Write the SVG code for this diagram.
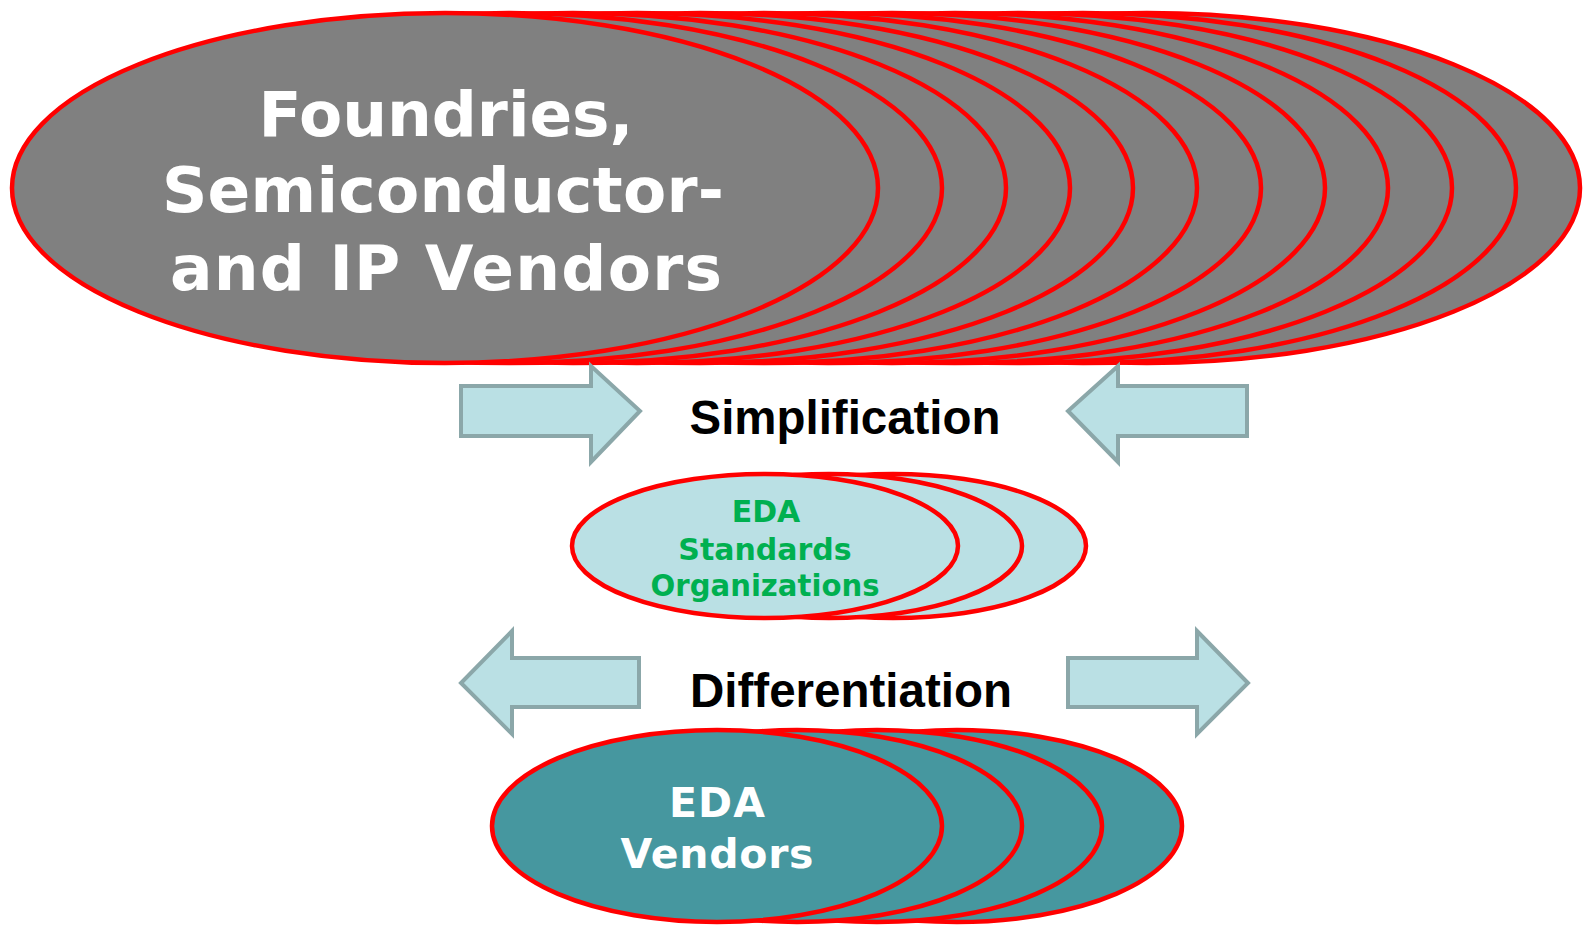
<svg xmlns="http://www.w3.org/2000/svg" width="1583" height="925" viewBox="0 0 1583 925">
<style>
.top{fill:#808080;stroke:#FF0000;stroke-width:4.5}
.mid{fill:#BAE0E4;stroke:#FF0000;stroke-width:4.5}
.bot{fill:#46979F;stroke:#FF0000;stroke-width:4.5}
.arr{fill:#BAE0E4;stroke:#8BA7A9;stroke-width:4}
.wt{font-family:"DejaVu Sans",Verdana,sans-serif;font-weight:bold;fill:#FFFFFF;text-anchor:middle}
.gt{font-family:"DejaVu Sans",Verdana,sans-serif;font-weight:bold;fill:#00B050;text-anchor:middle;font-size:30px}
.bt{font-family:"Liberation Sans",Arial,sans-serif;font-weight:bold;fill:#000000;text-anchor:middle;font-size:48px}
</style>
<rect width="1583" height="925" fill="#FFFFFF"/>
<g id="foundries">
<ellipse class="top" cx="1147" cy="188" rx="433" ry="175"/>
<ellipse class="top" cx="1083" cy="188" rx="433" ry="175"/>
<ellipse class="top" cx="1019" cy="188" rx="433" ry="175"/>
<ellipse class="top" cx="955" cy="188" rx="433" ry="175"/>
<ellipse class="top" cx="892" cy="188" rx="433" ry="175"/>
<ellipse class="top" cx="828" cy="188" rx="433" ry="175"/>
<ellipse class="top" cx="764" cy="188" rx="433" ry="175"/>
<ellipse class="top" cx="700" cy="188" rx="433" ry="175"/>
<ellipse class="top" cx="637" cy="188" rx="433" ry="175"/>
<ellipse class="top" cx="573" cy="188" rx="433" ry="175"/>
<ellipse class="top" cx="509" cy="188" rx="433" ry="175"/>
<ellipse class="top" cx="445" cy="188" rx="433" ry="175"/>
<text class="wt" font-size="63" x="446" y="136" textLength="375" lengthAdjust="spacing">Foundries,</text>
<text class="wt" font-size="63" x="443" y="212" textLength="562" lengthAdjust="spacing">Semiconductor-</text>
<text class="wt" font-size="63" x="446" y="290" textLength="552" lengthAdjust="spacing">and IP Vendors</text>
</g>
<g id="standards">
<ellipse class="mid" cx="893" cy="546" rx="193" ry="72"/>
<ellipse class="mid" cx="829" cy="546" rx="193" ry="72"/>
<ellipse class="mid" cx="765" cy="546" rx="193" ry="72"/>
<text class="gt" x="766" y="522">EDA</text>
<text class="gt" x="765" y="560">Standards</text>
<text class="gt" x="765" y="596" textLength="229" lengthAdjust="spacingAndGlyphs">Organizations</text>
</g>
<g id="vendors">
<ellipse class="bot" cx="957" cy="826" rx="225" ry="96"/>
<ellipse class="bot" cx="877" cy="826" rx="225" ry="96"/>
<ellipse class="bot" cx="797" cy="826" rx="225" ry="96"/>
<ellipse class="bot" cx="717" cy="826" rx="225" ry="96"/>
<text class="wt" font-size="41" x="717" y="817" textLength="96" lengthAdjust="spacing">EDA</text>
<text class="wt" font-size="41" x="717" y="868" textLength="193" lengthAdjust="spacing">Vendors</text>
</g>
<g id="connectors">
<polygon class="arr" points="461,386 591,386 591,366 640,411 591,462 591,436 461,436"/>
<polygon class="arr" points="1247,386 1118,386 1118,366 1068,411 1118,462 1118,436 1247,436"/>
<polygon class="arr" points="639,658 512,658 512,631 461,683 512,734 512,707 639,707"/>
<polygon class="arr" points="1068,658 1197,658 1197,631 1248,683 1197,734 1197,707 1068,707"/>
</g>
<g id="labels">
<text class="bt" x="845" y="434" textLength="311" lengthAdjust="spacingAndGlyphs">Simplification</text>
<text class="bt" x="851" y="707" textLength="322" lengthAdjust="spacingAndGlyphs">Differentiation</text>
</g>
</svg>
